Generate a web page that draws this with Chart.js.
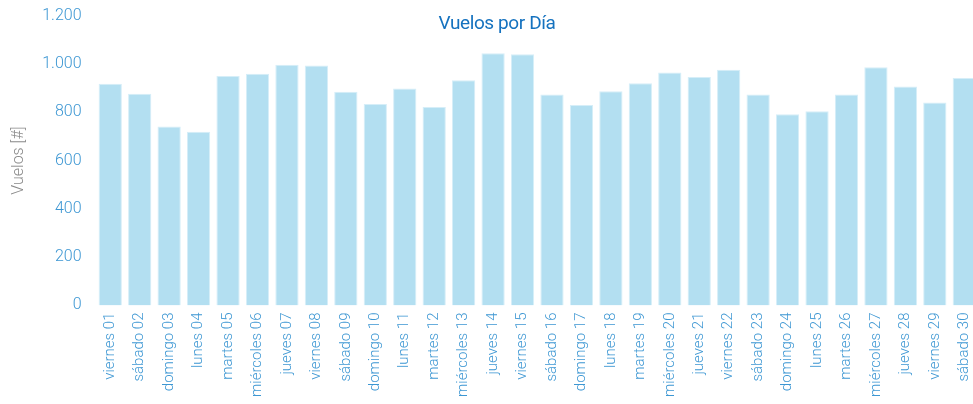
<!DOCTYPE html>
<html>
<head>
<meta charset="utf-8">
<script src="https://cdn.jsdelivr.net/npm/chart.js@4"></script>
<style>
  html, body { margin: 0; padding: 0; background: #fff; overflow: hidden; }
  #wrap { position: relative; width: 994px; height: 404px; overflow: hidden; }
  #chart-canvas { position: absolute; left: 0; top: -8px; }
  #chart-title {
    position: absolute; left: 0; width: 994px; top: 11px;
    text-align: center; font-family: Roboto, sans-serif; font-size: 19px;
    color: #1572bf; letter-spacing: -0.4px;
  }
</style>
</head>
<body>
<div id="wrap">
  <canvas id="chart-canvas" width="994" height="412"></canvas>
  <div id="chart-title">Vuelos por Día</div>
</div>
<script>
const labels = [
    'viernes 01', 'sábado 02', 'domingo 03', 'lunes 04', 'martes 05',
    'miércoles 06', 'jueves 07', 'viernes 08', 'sábado 09', 'domingo 10',
    'lunes 11', 'martes 12', 'miércoles 13', 'jueves 14', 'viernes 15',
    'sábado 16', 'domingo 17', 'lunes 18', 'martes 19', 'miércoles 20',
    'jueves 21', 'viernes 22', 'sábado 23', 'domingo 24', 'lunes 25',
    'martes 26', 'miércoles 27', 'jueves 28', 'viernes 29', 'sábado 30',
];
const vuelos = [
    918, 877, 741, 719, 950, 959, 997, 993, 885, 834,
    898, 822, 932, 1044, 1040, 873, 830, 887, 920, 964,
    946, 976, 873, 792, 804, 873, 986, 907, 840, 942,
];
const yTicks = [0, 200, 400, 600, 800, 1000, 1200];

const tickColor = '#3d97d3';
const yFont = { family: 'Roboto', size: 16, weight: 300 };
const xFont = { family: 'Roboto', size: 15, weight: 300 };

function formatNumber(v) {
    return String(v).replace(/\B(?=(\d{3})+(?!\d))/g, '.');
}

const data = {
    labels: labels,
    datasets: [{
        label: 'Vuelos',
        backgroundColor: '#b3dff1',
        borderColor: '#d6eef8',
        borderWidth: 1,
        data: vuelos,
        categoryPercentage: 1,
        barPercentage: 0.79,
    }]
};

const config = {
    type: 'bar',
    data,
    options: {
        responsive: false,
        animation: false,
        layout: { padding: { top: 0, right: 15, left: 9, bottom: 0 } },
        plugins: { legend: { display: false }, tooltip: { enabled: false } },
        scales: {
            x: {
                grid: { display: false, drawTicks: false },
                border: { display: false },
                ticks: {
                    color: tickColor, font: xFont, minRotation: 90, maxRotation: 90,
                    autoSkip: false, padding: 7,
                },
            },
            y: {
                min: 0, max: 1200,
                grid: { display: false, drawTicks: false },
                border: { display: false },
                afterBuildTicks: (axis) => { axis.ticks = yTicks.map(v => ({ value: v })); },
                ticks: {
                    color: tickColor, font: yFont, padding: 14,
                    callback: (v) => formatNumber(v),
                },
                title: {
                    display: true, text: 'Vuelos [#]', color: '#8a8a8a',
                    font: yFont, padding: { top: 0, bottom: 0 },
                },
            },
        },
    },
};

new Chart(document.getElementById('chart-canvas'), config);
</script>
</body>
</html>
